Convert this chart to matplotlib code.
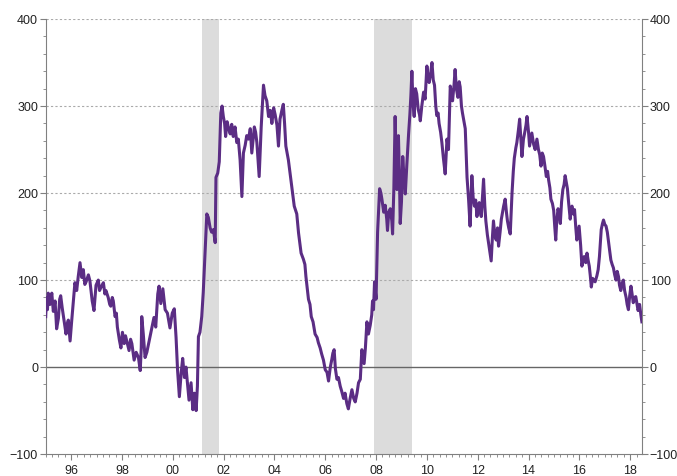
import numpy as np
import matplotlib
matplotlib.use("Agg")
import matplotlib.pyplot as plt
from matplotlib.ticker import MultipleLocator, FixedLocator

plt.rcParams['font.family'] = ['Liberation Sans', 'DejaVu Sans']

# decimal years and values
years = [
    1995.00, 1995.03, 1995.07, 1995.10, 1995.17, 1995.24, 1995.30, 1995.37, 1995.43, 1995.50,
    1995.55, 1995.59, 1995.65, 1995.73, 1995.80, 1995.85, 1995.89, 1995.96, 1996.02, 1996.09,
    1996.15, 1996.22, 1996.28, 1996.35, 1996.42, 1996.48, 1996.54, 1996.59, 1996.68, 1996.74,
    1996.83, 1996.90, 1996.98, 1997.07, 1997.12, 1997.18, 1997.27, 1997.33, 1997.37, 1997.46,
    1997.52, 1997.56, 1997.62, 1997.66, 1997.73, 1997.78, 1997.82, 1997.90, 1997.96, 1998.02,
    1998.09, 1998.14, 1998.19, 1998.28, 1998.34, 1998.39, 1998.48, 1998.56, 1998.65, 1998.72,
    1998.76, 1998.78, 1998.84, 1998.91, 1998.98, 1999.07, 1999.17, 1999.26, 1999.33, 1999.41,
    1999.46, 1999.53, 1999.61, 1999.70, 1999.79, 1999.89, 1999.98, 2000.06, 2000.13, 2000.19,
    2000.26, 2000.33, 2000.39, 2000.46, 2000.52, 2000.59, 2000.64, 2000.72, 2000.79, 2000.85,
    2000.92, 2000.97, 2001.01, 2001.07, 2001.14, 2001.20, 2001.27, 2001.34, 2001.40, 2001.47,
    2001.53, 2001.60, 2001.67, 2001.70, 2001.77, 2001.83, 2001.89, 2001.94, 2001.99, 2002.04,
    2002.08, 2002.14, 2002.19, 2002.26, 2002.32, 2002.38, 2002.45, 2002.52, 2002.58, 2002.65,
    2002.72, 2002.78, 2002.85, 2002.91, 2002.98, 2003.05, 2003.11, 2003.21, 2003.26, 2003.31,
    2003.40, 2003.48, 2003.57, 2003.63, 2003.70, 2003.77, 2003.84, 2003.90, 2003.97, 2004.03,
    2004.10, 2004.16, 2004.22, 2004.30, 2004.35, 2004.40, 2004.45, 2004.55, 2004.62, 2004.68,
    2004.78, 2004.88, 2004.95, 2005.05, 2005.14, 2005.20, 2005.24, 2005.34, 2005.40, 2005.45,
    2005.52, 2005.60, 2005.68, 2005.73, 2005.80, 2005.86, 2005.93, 2006.00, 2006.07, 2006.13,
    2006.20, 2006.26, 2006.30, 2006.35, 2006.40, 2006.46, 2006.52, 2006.59, 2006.65, 2006.72,
    2006.78, 2006.85, 2006.91, 2006.98, 2007.05, 2007.12, 2007.18, 2007.25, 2007.31, 2007.38,
    2007.44, 2007.53, 2007.58, 2007.64, 2007.70, 2007.77, 2007.83, 2007.86, 2007.90, 2007.94,
    2008.00, 2008.06, 2008.14, 2008.19, 2008.23, 2008.30, 2008.36, 2008.42, 2008.45, 2008.50,
    2008.56, 2008.62, 2008.65, 2008.70, 2008.75, 2008.79, 2008.82, 2008.88, 2008.92, 2008.95,
    2009.00, 2009.05, 2009.10, 2009.15, 2009.21, 2009.28, 2009.33, 2009.37, 2009.41, 2009.45,
    2009.50, 2009.55, 2009.60, 2009.66, 2009.71, 2009.74, 2009.80, 2009.87, 2009.93, 2010.00,
    2010.05, 2010.09, 2010.15, 2010.20, 2010.25, 2010.30, 2010.35, 2010.39, 2010.44, 2010.48,
    2010.54, 2010.59, 2010.65, 2010.72, 2010.79, 2010.85, 2010.92, 2010.97, 2011.01, 2011.07,
    2011.11, 2011.16, 2011.22, 2011.27, 2011.31, 2011.36, 2011.40, 2011.46, 2011.51, 2011.58,
    2011.64, 2011.70, 2011.74, 2011.77, 2011.82, 2011.87, 2011.92, 2011.97, 2012.02, 2012.06,
    2012.10, 2012.14, 2012.19, 2012.23, 2012.28, 2012.32, 2012.38, 2012.43, 2012.48, 2012.53,
    2012.58, 2012.62, 2012.68, 2012.73, 2012.78, 2012.82, 2012.88, 2012.93, 2013.02, 2013.08,
    2013.13, 2013.17, 2013.22, 2013.28, 2013.35, 2013.40, 2013.44, 2013.50, 2013.54, 2013.60,
    2013.65, 2013.70, 2013.74, 2013.80, 2013.84, 2013.90, 2013.94, 2014.00, 2014.04, 2014.09,
    2014.13, 2014.20, 2014.26, 2014.33, 2014.39, 2014.44, 2014.49, 2014.54, 2014.59, 2014.64,
    2014.70, 2014.75, 2014.79, 2014.84, 2014.88, 2014.94, 2014.99, 2015.03, 2015.07, 2015.11,
    2015.16, 2015.21, 2015.25, 2015.30, 2015.35, 2015.40, 2015.44, 2015.49, 2015.53, 2015.58,
    2015.64, 2015.68, 2015.71, 2015.76, 2015.81, 2015.86, 2015.90, 2015.95, 2015.99, 2016.05,
    2016.10, 2016.15, 2016.19, 2016.25, 2016.30, 2016.35, 2016.39, 2016.43, 2016.47, 2016.52,
    2016.56, 2016.62, 2016.69, 2016.74, 2016.79, 2016.83, 2016.86, 2016.91, 2016.95, 2017.00,
    2017.05, 2017.10, 2017.15, 2017.20, 2017.24, 2017.29, 2017.34, 2017.39, 2017.44, 2017.49,
    2017.54, 2017.58, 2017.63, 2017.68, 2017.73, 2017.78, 2017.84, 2017.88, 2017.93, 2017.98,
    2018.03, 2018.07, 2018.12, 2018.17, 2018.22, 2018.27, 2018.31, 2018.37, 2018.42, 2018.46,
]
values = [
    58, 80, 66, 85, 72, 85, 64, 76, 44, 56,
    78, 82, 68, 52, 38, 50, 54, 30, 52, 76,
    97, 88, 104, 120, 103, 112, 95, 98, 106, 99,
    76, 65, 94, 100, 88, 92, 97, 84, 88, 80,
    72, 70, 80, 76, 58, 62, 46, 31, 22, 40,
    27, 36, 30, 19, 32, 27, 8, 17, 11, -4,
    22, 58, 38, 11, 17, 30, 44, 57, 46, 84,
    93, 73, 90, 66, 62, 45, 62, 67, 34, -4,
    -34, -7, 10, -12, 0, -22, -38, -18, -49, -30,
    -50, -22, 35, 40, 58, 86, 132, 176, 172, 160,
    155, 158, 143, 218, 223, 236, 292, 300, 288, 280,
    265, 282, 275, 268, 279, 265, 276, 258, 262, 238,
    196, 246, 255, 266, 262, 274, 246, 276, 270, 258,
    219, 276, 324, 312, 306, 288, 295, 280, 298, 290,
    278, 254, 285, 296, 302, 280, 254, 238, 222, 208,
    185, 176, 154, 131, 124, 118, 104, 78, 72, 58,
    52, 38, 34, 28, 22, 15, 8, -3, -6, -16,
    0, 9, 16, 20, -2, -14, -12, -22, -28, -36,
    -30, -42, -48, -36, -26, -36, -40, -30, -18, -14,
    20, 4, 22, 52, 38, 48, 60, 76, 66, 98,
    78, 155, 205, 200, 193, 178, 186, 170, 157, 178,
    182, 168, 153, 205, 288, 240, 204, 266, 220, 165,
    190, 242, 218, 199, 232, 268, 290, 312, 340, 305,
    288, 320, 314, 296, 290, 283, 300, 316, 308, 346,
    332, 327, 338, 350, 330, 324, 300, 289, 292, 280,
    270, 258, 240, 222, 262, 250, 323, 312, 306, 325,
    342, 320, 310, 328, 322, 300, 292, 282, 274, 218,
    193, 162, 196, 220, 195, 185, 192, 173, 186, 189,
    178, 173, 196, 216, 185, 168, 152, 142, 132, 122,
    150, 168, 150, 146, 160, 139, 155, 170, 185, 193,
    178, 168, 160, 153, 200, 225, 240, 252, 258, 272,
    285, 262, 242, 262, 268, 278, 288, 270, 254, 262,
    269, 256, 250, 262, 250, 244, 231, 246, 242, 232,
    219, 225, 215, 206, 193, 188, 180, 162, 146, 168,
    182, 175, 165, 190, 204, 210, 220, 212, 205, 188,
    170, 182, 185, 176, 181, 160, 146, 155, 162, 140,
    116, 125, 127, 120, 131, 122, 116, 105, 92, 102,
    100, 98, 105, 112, 127, 145, 158, 165, 169, 164,
    162, 155, 143, 132, 123, 118, 114, 106, 100, 110,
    104, 94, 88, 96, 100, 88, 80, 72, 66, 82,
    93, 85, 74, 80, 81, 72, 65, 72, 60, 52,
]

recessions = [(2001.17, 2001.83), (2007.92, 2009.42)]
tick_years = [1996, 1998, 2000, 2002, 2004, 2006, 2008, 2010, 2012, 2014, 2016, 2018]
tick_labels = ['96', '98', '00', '02', '04', '06', '08', '10', '12', '14', '16', '18']

fig = plt.figure(figsize=(6.77, 4.76), dpi=100)
ax = fig.add_axes([0.0675, 0.046, 0.881, 0.914])

for start, end in recessions:
    ax.axvspan(start, end, color='#dcdcdc', lw=0, zorder=0)

ax.axhline(0, color='#666666', lw=1, zorder=1)
for v in [100, 200, 300, 400]:
    ax.axhline(v, color='#aaaaaa', lw=0.8, ls=(0, (2, 2)), zorder=1)

ax.plot(years, values, color='#5b2d84', lw=2.2, zorder=3)

ax.set_xlim(1995.0, 2018.47)
ax.set_ylim(-100, 400)

ax.xaxis.set_major_locator(FixedLocator(tick_years))
ax.set_xticklabels(tick_labels)
ax.xaxis.set_minor_locator(MultipleLocator(0.25))
ax.yaxis.set_major_locator(MultipleLocator(100))
ax.yaxis.set_minor_locator(MultipleLocator(20))

ax.tick_params(axis='y', which='both', left=True, right=True, labelleft=True,
               labelright=True, direction='out', colors='#808080',
               labelcolor='#222222', labelsize=9, pad=1.5)
ax.tick_params(axis='y', which='major', length=4)
ax.tick_params(axis='y', which='minor', length=2.5)
ax.tick_params(axis='x', which='both', direction='out', colors='#808080',
               labelcolor='#222222', labelsize=9)
ax.tick_params(axis='x', which='major', length=4)
ax.tick_params(axis='x', which='minor', length=2.5)

ax.spines['top'].set_visible(False)
for side in ['left', 'right', 'bottom']:
    ax.spines[side].set_color('#808080')

fig.savefig('out.png', dpi=100)
